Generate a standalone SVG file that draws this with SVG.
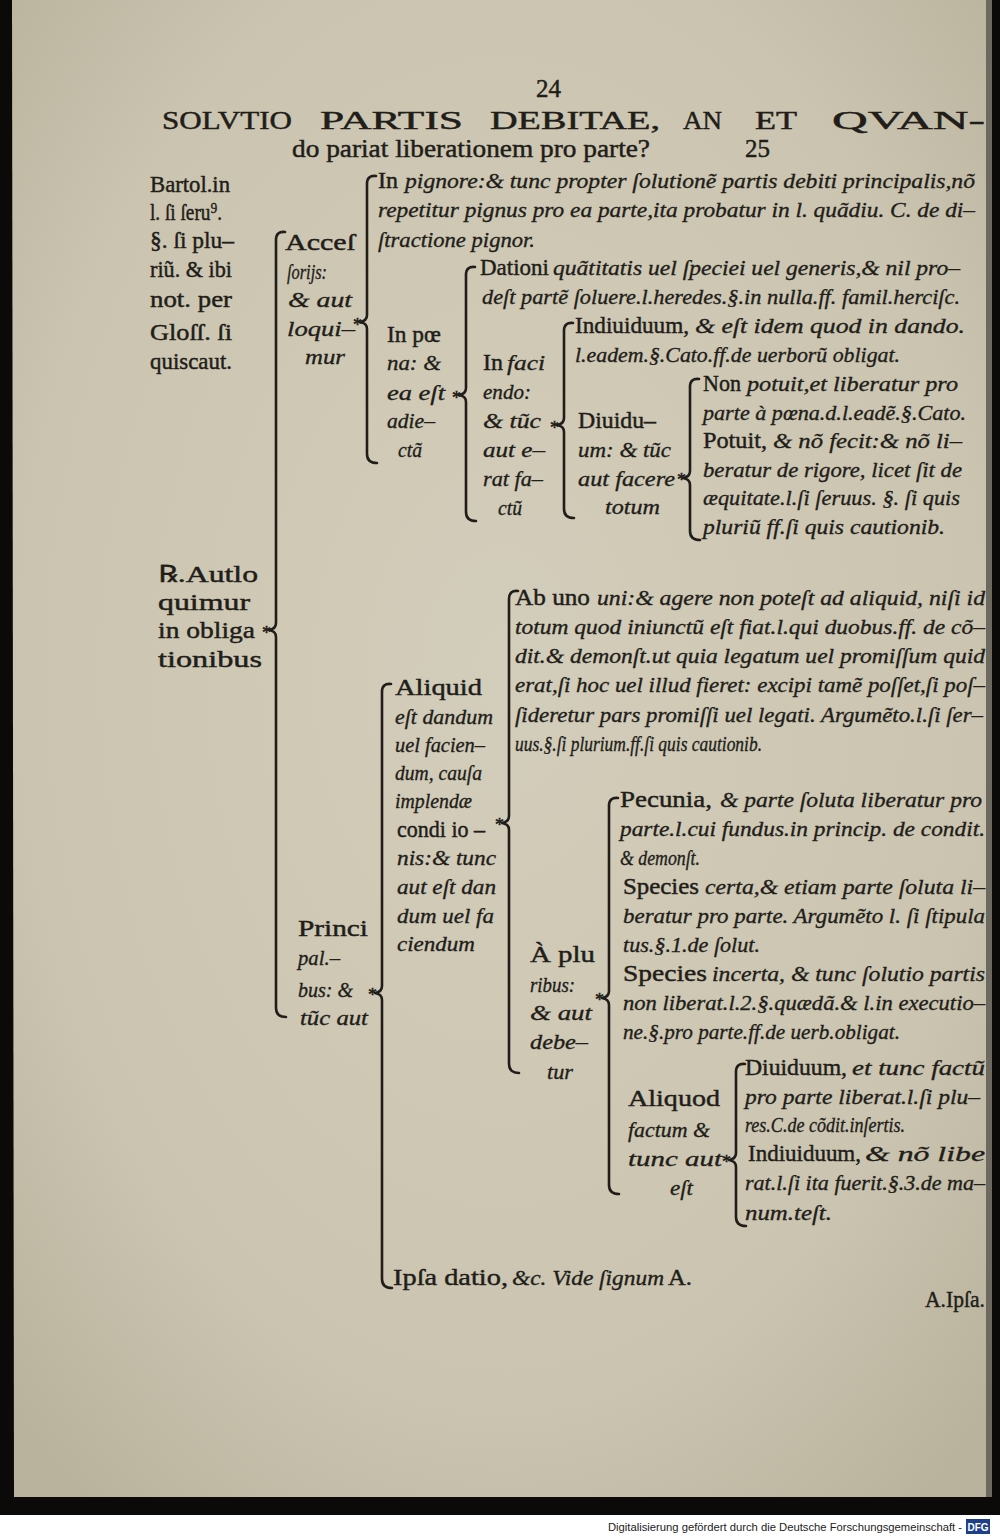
<svg xmlns="http://www.w3.org/2000/svg" width="1000" height="1536" viewBox="0 0 1000 1536">
<defs>
<radialGradient id="paper" cx="50%" cy="45%" r="70%">
<stop offset="0" stop-color="#d3cdbb"/>
<stop offset="0.7" stop-color="#cbc4b0"/>
<stop offset="1" stop-color="#b9b29d"/>
</radialGradient>
<style>
.r{font-family:"Liberation Serif","DejaVu Serif",serif;font-size:24px;fill:#211d18;stroke:#211d18;stroke-width:0.45}
.i{font-family:"Liberation Serif","DejaVu Serif",serif;font-style:italic;font-size:22px;fill:#211d18;stroke:#211d18;stroke-width:0.35}
.h{font-family:"Liberation Serif","DejaVu Serif",serif;font-size:25px;fill:#211d18;stroke:#211d18;stroke-width:0.45}
.a{font-family:"Liberation Serif","DejaVu Serif",serif;font-size:18px;fill:#211d18;stroke:#211d18;stroke-width:0.5;text-anchor:end}
.b{fill:none;stroke:#211d18;stroke-width:2.6;stroke-linecap:round;stroke-linejoin:round}
</style>
</defs>
<rect x="0" y="0" width="1000" height="1515" fill="#0b0a09"/>
<rect x="0" y="1515" width="1000" height="21" fill="#ffffff"/>
<path d="M12,0 L990,0 L991,1497 L14,1497 Z" fill="url(#paper)"/>
<rect x="986" y="0" width="6" height="1497" fill="#6e695f"/>

<g id="header">
<text class="h" x="536" y="97">24</text>
<text class="h" x="162" y="129" textLength="130" lengthAdjust="spacingAndGlyphs">SOLVTIO</text>
<text class="h" x="320" y="129" textLength="143" lengthAdjust="spacingAndGlyphs">PARTIS</text>
<text class="h" x="490" y="129" textLength="170" lengthAdjust="spacingAndGlyphs">DEBITAE,</text>
<text class="h" x="683" y="129" textLength="39" lengthAdjust="spacingAndGlyphs">AN</text>
<text class="h" x="755" y="129" textLength="42" lengthAdjust="spacingAndGlyphs">ET</text>
<text class="h" x="832" y="129" textLength="153" lengthAdjust="spacingAndGlyphs">QVAN-</text>
<text class="h" x="292" y="157" font-size="26" textLength="358" lengthAdjust="spacingAndGlyphs">do pariat liberationem pro parte?</text>
<text class="h" x="745" y="157">25</text>
</g>

<g id="margin-note">
<text class="r" x="150" y="192" textLength="80" lengthAdjust="spacingAndGlyphs">Bartol.in</text>
<text class="r" x="150" y="220" textLength="72" lengthAdjust="spacingAndGlyphs">l. ſi ſeru⁹.</text>
<text class="r" x="150" y="248" textLength="84" lengthAdjust="spacingAndGlyphs">§. ſi plu–</text>
<text class="r" x="150" y="277" textLength="82" lengthAdjust="spacingAndGlyphs">riũ. &amp; ibi</text>
<text class="r" x="150" y="307" textLength="82" lengthAdjust="spacingAndGlyphs">not. per</text>
<text class="r" x="150" y="340" textLength="82" lengthAdjust="spacingAndGlyphs">Gloſſ. ſi</text>
<text class="r" x="150" y="369" textLength="82" lengthAdjust="spacingAndGlyphs">quiscaut.</text>
</g>

<g id="node-autloquimur">
<text class="r" x="158" y="582" textLength="100" lengthAdjust="spacingAndGlyphs">℞.Autlo</text>
<text class="r" x="158" y="610" textLength="92" lengthAdjust="spacingAndGlyphs">quimur</text>
<text class="r" x="158" y="638" textLength="97" lengthAdjust="spacingAndGlyphs">in obliga</text>
<text class="r" x="158" y="667" textLength="104" lengthAdjust="spacingAndGlyphs">tionibus</text>
</g>

<g id="node-accessorijs">
<text class="r" x="285" y="250" textLength="70" lengthAdjust="spacingAndGlyphs">Acceſ</text>
<text class="i" x="287" y="279" textLength="40" lengthAdjust="spacingAndGlyphs">ſorijs:</text>
<text class="i" x="288" y="307" textLength="64" lengthAdjust="spacingAndGlyphs">&amp; aut</text>
<text class="i" x="287" y="336" textLength="68" lengthAdjust="spacingAndGlyphs">loqui–</text>
<text class="i" x="305" y="364" textLength="40" lengthAdjust="spacingAndGlyphs">mur</text>
</g>

<g id="node-in-pignore">
<text class="r" x="378" y="188">In</text>
<text class="i" x="405" y="188" textLength="570" lengthAdjust="spacingAndGlyphs">pignore:&amp; tunc propter ſolutionẽ partis debiti principalis,nõ</text>
<text class="i" x="378" y="217" textLength="597" lengthAdjust="spacingAndGlyphs">repetitur pignus pro ea parte,ita probatur in l. quãdiu. C. de di–</text>
<text class="i" x="378" y="247" textLength="157" lengthAdjust="spacingAndGlyphs">ſtractione pignor.</text>
</g>

<g id="node-in-poena">
<text class="r" x="387" y="342" textLength="54" lengthAdjust="spacingAndGlyphs">In pœ</text>
<text class="i" x="387" y="370" textLength="54" lengthAdjust="spacingAndGlyphs">na: &amp;</text>
<text class="i" x="387" y="400" textLength="58" lengthAdjust="spacingAndGlyphs">ea eſt</text>
<text class="i" x="387" y="428" textLength="48" lengthAdjust="spacingAndGlyphs">adie–</text>
<text class="i" x="398" y="457" textLength="24" lengthAdjust="spacingAndGlyphs">ctã</text>
</g>

<g id="node-dationi">
<text class="r" x="480" y="275" textLength="69" lengthAdjust="spacingAndGlyphs">Dationi</text>
<text class="i" x="553" y="275" textLength="407" lengthAdjust="spacingAndGlyphs">quãtitatis uel ſpeciei uel generis,&amp; nil pro–</text>
<text class="i" x="482" y="304" textLength="478" lengthAdjust="spacingAndGlyphs">deſt partẽ ſoluere.l.heredes.§.in nulla.ff. famil.herciſc.</text>
</g>

<g id="node-in-faciendo">
<text class="r" x="483" y="370">In</text>
<text class="i" x="507" y="370" textLength="38" lengthAdjust="spacingAndGlyphs">faci</text>
<text class="i" x="483" y="399" textLength="48" lengthAdjust="spacingAndGlyphs">endo:</text>
<text class="i" x="483" y="428" textLength="58" lengthAdjust="spacingAndGlyphs">&amp; tũc</text>
<text class="i" x="483" y="457" textLength="62" lengthAdjust="spacingAndGlyphs">aut e–</text>
<text class="i" x="483" y="486" textLength="60" lengthAdjust="spacingAndGlyphs">rat fa–</text>
<text class="i" x="498" y="515" textLength="24" lengthAdjust="spacingAndGlyphs">ctũ</text>
</g>

<g id="node-indiuiduum-1">
<text class="r" x="575" y="333" textLength="114" lengthAdjust="spacingAndGlyphs">Indiuiduum,</text>
<text class="i" x="695" y="333" textLength="270" lengthAdjust="spacingAndGlyphs">&amp; eſt idem quod in dando.</text>
<text class="i" x="575" y="362" textLength="325" lengthAdjust="spacingAndGlyphs">l.eadem.§.Cato.ff.de uerborũ obligat.</text>
</g>

<g id="node-diuiduum-1">
<text class="r" x="578" y="428" textLength="78" lengthAdjust="spacingAndGlyphs">Diuidu–</text>
<text class="i" x="578" y="457" textLength="93" lengthAdjust="spacingAndGlyphs">um: &amp; tũc</text>
<text class="i" x="578" y="486" textLength="97" lengthAdjust="spacingAndGlyphs">aut facere</text>
<text class="i" x="605" y="514" textLength="55" lengthAdjust="spacingAndGlyphs">totum</text>
</g>

<g id="node-non-potuit">
<text class="r" x="703" y="391" textLength="38" lengthAdjust="spacingAndGlyphs">Non</text>
<text class="i" x="747" y="391" textLength="211" lengthAdjust="spacingAndGlyphs">potuit,et liberatur pro</text>
<text class="i" x="703" y="420" textLength="263" lengthAdjust="spacingAndGlyphs">parte à pœna.d.l.eadẽ.§.Cato.</text>
</g>

<g id="node-potuit">
<text class="r" x="703" y="448" textLength="64" lengthAdjust="spacingAndGlyphs">Potuit,</text>
<text class="i" x="773" y="448" textLength="189" lengthAdjust="spacingAndGlyphs">&amp; nõ fecit:&amp; nõ li–</text>
<text class="i" x="703" y="477" textLength="259" lengthAdjust="spacingAndGlyphs">beratur de rigore, licet ſit de</text>
<text class="i" x="703" y="505" textLength="257" lengthAdjust="spacingAndGlyphs">æquitate.l.ſi ſeruus. §. ſi quis</text>
<text class="i" x="703" y="534" textLength="242" lengthAdjust="spacingAndGlyphs">pluriũ ff.ſi quis cautionib.</text>
</g>

<g id="node-ab-uno">
<text class="r" x="515" y="605" textLength="75" lengthAdjust="spacingAndGlyphs">Ab uno</text>
<text class="i" x="597" y="605" textLength="388" lengthAdjust="spacingAndGlyphs">uni:&amp; agere non poteſt ad aliquid, niſi id</text>
<text class="i" x="515" y="634" textLength="470" lengthAdjust="spacingAndGlyphs">totum quod iniunctũ eſt fiat.l.qui duobus.ff. de cõ–</text>
<text class="i" x="515" y="663" textLength="470" lengthAdjust="spacingAndGlyphs">dit.&amp; demonſt.ut quia legatum uel promiſſum quid</text>
<text class="i" x="515" y="692" textLength="470" lengthAdjust="spacingAndGlyphs">erat,ſi hoc uel illud fieret: excipi tamẽ poſſet,ſi poſ–</text>
<text class="i" x="515" y="722" textLength="468" lengthAdjust="spacingAndGlyphs">ſideretur pars promiſſi uel legati. Argumẽto.l.ſi ſer–</text>
<text class="i" x="515" y="751" textLength="247" lengthAdjust="spacingAndGlyphs">uus.§.ſi plurium.ff.ſi quis cautionib.</text>
</g>

<g id="node-aliquid">
<text class="r" x="395" y="695" textLength="87" lengthAdjust="spacingAndGlyphs">Aliquid</text>
<text class="i" x="395" y="724" textLength="98" lengthAdjust="spacingAndGlyphs">eſt dandum</text>
<text class="i" x="395" y="752" textLength="90" lengthAdjust="spacingAndGlyphs">uel facien–</text>
<text class="i" x="395" y="780" textLength="87" lengthAdjust="spacingAndGlyphs">dum, cauſa</text>
<text class="i" x="395" y="808" textLength="77" lengthAdjust="spacingAndGlyphs">implendæ</text>
<text class="r" x="397" y="837" font-size="22" textLength="88" lengthAdjust="spacingAndGlyphs">condi io –</text>
<text class="i" x="397" y="865" textLength="99" lengthAdjust="spacingAndGlyphs">nis:&amp; tunc</text>
<text class="i" x="397" y="894" textLength="99" lengthAdjust="spacingAndGlyphs">aut eſt dan</text>
<text class="i" x="397" y="923" textLength="97" lengthAdjust="spacingAndGlyphs">dum uel fa</text>
<text class="i" x="397" y="951" textLength="78" lengthAdjust="spacingAndGlyphs">ciendum</text>
</g>

<g id="node-principalibus">
<text class="r" x="298" y="936" textLength="70" lengthAdjust="spacingAndGlyphs">Princi</text>
<text class="i" x="298" y="965" textLength="42" lengthAdjust="spacingAndGlyphs">pal.–</text>
<text class="i" x="298" y="997" textLength="55" lengthAdjust="spacingAndGlyphs">bus: &amp;</text>
<text class="i" x="300" y="1025" textLength="68" lengthAdjust="spacingAndGlyphs">tũc aut</text>
</g>

<g id="node-pecunia">
<text class="r" x="620" y="807" textLength="92" lengthAdjust="spacingAndGlyphs">Pecunia,</text>
<text class="i" x="720" y="807" textLength="262" lengthAdjust="spacingAndGlyphs">&amp; parte ſoluta liberatur pro</text>
<text class="i" x="620" y="836" textLength="365" lengthAdjust="spacingAndGlyphs">parte.l.cui fundus.in princip. de condit.</text>
<text class="i" x="620" y="865" textLength="80" lengthAdjust="spacingAndGlyphs">&amp; demonſt.</text>
</g>

<g id="node-species-certa">
<text class="r" x="623" y="894" textLength="76" lengthAdjust="spacingAndGlyphs">Species</text>
<text class="i" x="705" y="894" textLength="280" lengthAdjust="spacingAndGlyphs">certa,&amp; etiam parte ſoluta li–</text>
<text class="i" x="623" y="923" textLength="362" lengthAdjust="spacingAndGlyphs">beratur pro parte. Argumẽto l. ſi ſtipula</text>
<text class="i" x="623" y="952" textLength="137" lengthAdjust="spacingAndGlyphs">tus.§.1.de ſolut.</text>
</g>

<g id="node-species-incerta">
<text class="r" x="623" y="981" textLength="84" lengthAdjust="spacingAndGlyphs">Species</text>
<text class="i" x="712" y="981" textLength="273" lengthAdjust="spacingAndGlyphs">incerta, &amp; tunc ſolutio partis</text>
<text class="i" x="623" y="1010" textLength="362" lengthAdjust="spacingAndGlyphs">non liberat.l.2.§.quædã.&amp; l.in executio–</text>
<text class="i" x="623" y="1039" textLength="277" lengthAdjust="spacingAndGlyphs">ne.§.pro parte.ff.de uerb.obligat.</text>
</g>

<g id="node-a-pluribus">
<text class="r" x="530" y="962" textLength="65" lengthAdjust="spacingAndGlyphs">À plu</text>
<text class="i" x="530" y="992" textLength="45" lengthAdjust="spacingAndGlyphs">ribus:</text>
<text class="i" x="530" y="1020" textLength="62" lengthAdjust="spacingAndGlyphs">&amp; aut</text>
<text class="i" x="530" y="1049" textLength="58" lengthAdjust="spacingAndGlyphs">debe–</text>
<text class="i" x="547" y="1079" textLength="26" lengthAdjust="spacingAndGlyphs">tur</text>
</g>

<g id="node-aliquod">
<text class="r" x="628" y="1106" textLength="92" lengthAdjust="spacingAndGlyphs">Aliquod</text>
<text class="i" x="628" y="1137" textLength="82" lengthAdjust="spacingAndGlyphs">factum &amp;</text>
<text class="i" x="628" y="1166" textLength="94" lengthAdjust="spacingAndGlyphs">tunc aut</text>
<text class="i" x="670" y="1195" textLength="23" lengthAdjust="spacingAndGlyphs">eſt</text>
</g>

<g id="node-diuiduum-2">
<text class="r" x="745" y="1075" textLength="102" lengthAdjust="spacingAndGlyphs">Diuiduum,</text>
<text class="i" x="852" y="1075" textLength="133" lengthAdjust="spacingAndGlyphs">et tunc factũ</text>
<text class="i" x="745" y="1104" textLength="235" lengthAdjust="spacingAndGlyphs">pro parte liberat.l.ſi plu–</text>
<text class="i" x="745" y="1132" textLength="160" lengthAdjust="spacingAndGlyphs">res.C.de cõdit.inſertis.</text>
</g>

<g id="node-indiuiduum-2">
<text class="r" x="748" y="1161" textLength="113" lengthAdjust="spacingAndGlyphs">Indiuiduum,</text>
<text class="i" x="865" y="1161" textLength="120" lengthAdjust="spacingAndGlyphs">&amp; nõ libe</text>
<text class="i" x="745" y="1190" textLength="240" lengthAdjust="spacingAndGlyphs">rat.l.ſi ita fuerit.§.3.de ma–</text>
<text class="i" x="745" y="1220" textLength="87" lengthAdjust="spacingAndGlyphs">num.teſt.</text>
</g>

<g id="node-ipsa-datio">
<text class="r" x="393" y="1285" textLength="115" lengthAdjust="spacingAndGlyphs">Ipſa datio,</text>
<text class="i" x="512" y="1285" textLength="152" lengthAdjust="spacingAndGlyphs">&amp;c. Vide ſignum</text>
<text class="r" x="668" y="1285" font-size="19" textLength="24" lengthAdjust="spacingAndGlyphs">A.</text>
</g>

<g id="catchword">
<text class="r" x="925" y="1307" textLength="60" lengthAdjust="spacingAndGlyphs">A.Ipſa.</text>
</g>

<g id="connectors">
<path class="b" d="M285,232 Q276,231 276,240 L276,623 Q276,629 269,630 Q276,631 276,637 L276,1008 Q276,1017 286,1017"/>
<path class="b" d="M376,176 Q367,175 367,184 L367,315 Q367,321 360,322 Q367,323 367,329 L367,454 Q367,463 377,463"/>
<path class="b" d="M475,267 Q466,266 466,275 L466,388 Q466,394 459,395 Q466,396 466,402 L466,512 Q466,521 476,521"/>
<path class="b" d="M573,323 Q564,322 564,331 L564,418 Q564,424 557,425 Q564,426 564,432 L564,509 Q564,518 574,518"/>
<path class="b" d="M699,379 Q690,378 690,387 L690,471 Q690,477 683,478 Q690,479 690,485 L690,531 Q690,540 700,540"/>
<path class="b" d="M391,684 Q382,683 382,692 L382,986 Q382,992 375,993 Q382,994 382,1000 L382,1279 Q382,1288 392,1288"/>
<path class="b" d="M518,591 Q509,590 509,599 L509,816 Q509,822 502,823 Q509,824 509,830 L509,1064 Q509,1073 519,1073"/>
<path class="b" d="M618,798 Q609,797 609,806 L609,991 Q609,997 602,998 Q609,999 609,1005 L609,1185 Q609,1194 619,1194"/>
<path class="b" d="M745,1064 Q736,1063 736,1072 L736,1153 Q736,1159 729,1160 Q736,1161 736,1167 L736,1217 Q736,1226 746,1226"/>
<text class="a" x="271" y="639">*</text>
<text class="a" x="362" y="331">*</text>
<text class="a" x="461" y="404">*</text>
<text class="a" x="559" y="434">*</text>
<text class="a" x="686" y="486">*</text>
<text class="a" x="377" y="1001">*</text>
<text class="a" x="504" y="831">*</text>
<text class="a" x="604" y="1006">*</text>
<text class="a" x="731" y="1168">*</text>
</g>

<g id="footer">
<text x="608" y="1531" font-family="Liberation Sans,Arial,sans-serif" font-size="11" fill="#222" textLength="354" lengthAdjust="spacingAndGlyphs">Digitalisierung gefördert durch die Deutsche Forschungsgemeinschaft -</text>
<rect x="966" y="1519" width="24" height="15" fill="#1e3f8a"/>
<text x="978" y="1530.5" font-family="Liberation Sans,Arial,sans-serif" font-size="10" font-weight="bold" fill="#ffffff" text-anchor="middle">DFG</text>
</g>
</svg>
